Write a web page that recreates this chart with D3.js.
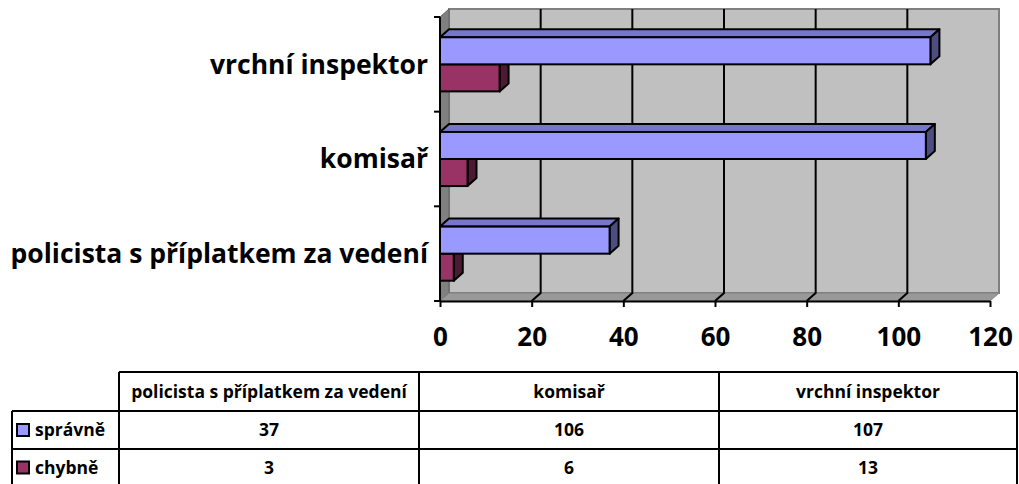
<!DOCTYPE html>
<html>
<head>
<meta charset="utf-8">
<script src="https://cdn.jsdelivr.net/npm/d3@7"></script>
<style>
  body { margin: 0; background: #fff; }
  svg { display: block; }
  text { font-family: "Open Sans", Lato, sans-serif; font-weight: bold; fill: #000; }
</style>
</head>
<body>
<div id="chart"></div>
<script>
// data
var categories = ['policista s příplatkem za vedení', 'komisař', 'vrchní inspektor'];
var seriesNames = ['správně', 'chybně'];
var spravne = [37, 106, 107];
var chybne = [3, 6, 13];
var xTicks = [0, 20, 40, 60, 80, 100, 120];
var seriesColors = ['#9999ff', '#993366'];
var topColors = ['#7676cc', '#7a2952'];
var sideColors = ['#4d4d80', '#4d1a33'];

var svgWidth = 1019;
var svgHeight = 484;
var depth = {x: 9, y: -8};

var svg = d3.select('#chart').append('svg').attr('width', svgWidth).attr('height', svgHeight);

var x = d3.scaleLinear().domain([0, 120]).range([440, 990]);
// first category sits at the bottom like in the spreadsheet
var y = d3.scaleBand().domain(categories.slice().reverse()).range([17, 301]).padding(0);
var bw = y.bandwidth();
var barH = bw / 3.5;
var ys = d3.scaleBand().domain(seriesNames).range([0, barH * 2]);

var x0 = x(0), x1 = x(120), yTop = y.range()[0], yBot = y.range()[1];

// walls
svg.append('polygon')
  .attr('points', [[x0 + depth.x, yTop + depth.y], [x1 + depth.x, yTop + depth.y], [x1 + depth.x, yBot + depth.y], [x0 + depth.x, yBot + depth.y]].join(' '))
  .attr('fill', '#c0c0c0').attr('stroke', '#808080').attr('stroke-width', 2);
svg.append('polygon')
  .attr('points', [[x0, yTop], [x0 + depth.x, yTop + depth.y], [x0 + depth.x, yBot + depth.y], [x0, yBot]].join(' '))
  .attr('fill', '#808080').attr('stroke', '#606060');
svg.append('polygon')
  .attr('points', [[x0, yBot], [x0 + depth.x, yBot + depth.y], [x1 + depth.x, yBot + depth.y], [x1, yBot]].join(' '))
  .attr('fill', '#999999').attr('stroke', '#808080');

// gridlines
var grid = xTicks.filter(function(t) { return t > 0 && t < 120; });
svg.selectAll('.grid').data(grid).enter().append('path')
  .attr('class', 'grid')
  .attr('d', function(t) {
    return 'M' + x(t) + ',' + yBot + 'L' + (x(t) + depth.x) + ',' + (yBot + depth.y) + 'L' + (x(t) + depth.x) + ',' + (yTop + depth.y);
  })
  .attr('fill', 'none').attr('stroke', '#000').attr('stroke-width', 2);

// bars, lower series first so the upper one covers its top face
var series = [spravne, chybne];
[1, 0].forEach(function(si) {
  var g = svg.append('g');
  categories.forEach(function(cat, ci) {
    var v = series[si][ci];
    var bx0 = x(0), bx1 = x(v);
    var by = y(cat) + (bw - barH * 2) / 2 + ys(seriesNames[si]);
    var bh = ys.bandwidth();
    g.append('polygon')
      .attr('points', [[bx0, by], [bx0 + depth.x, by + depth.y], [bx1 + depth.x, by + depth.y], [bx1, by]].join(' '))
      .attr('fill', topColors[si]).attr('stroke', '#000').attr('stroke-width', 2).attr('stroke-linejoin', 'round');
    g.append('polygon')
      .attr('points', [[bx1, by], [bx1 + depth.x, by + depth.y], [bx1 + depth.x, by + bh + depth.y], [bx1, by + bh]].join(' '))
      .attr('fill', sideColors[si]).attr('stroke', '#000').attr('stroke-width', 2).attr('stroke-linejoin', 'round');
    g.append('rect')
      .attr('x', bx0).attr('y', by).attr('width', bx1 - bx0).attr('height', bh)
      .attr('fill', seriesColors[si]).attr('stroke', '#000').attr('stroke-width', 2);
  });
});

// x axis
var xAxis = svg.append('g')
  .attr('transform', 'translate(0,' + yBot + ')')
  .call(d3.axisBottom(x).tickValues(xTicks).tickSize(6).tickPadding(21).tickSizeOuter(0));
xAxis.select('.domain').attr('stroke', '#000').attr('stroke-width', 2);
xAxis.selectAll('line').attr('stroke', '#000').attr('stroke-width', 2);
xAxis.selectAll('text').attr('font-size', 26).attr('font-family', '"Open Sans", sans-serif').attr('font-weight', 'bold').attr('fill', '#000');

// y axis: ticks on band edges, labels in the middle
var edges = y.domain().map(function(c) { return y(c); }).concat([yBot]);
svg.append('line').attr('x1', x0).attr('x2', x0).attr('y1', yTop).attr('y2', yBot)
  .attr('stroke', '#000').attr('stroke-width', 2);
svg.selectAll('.ytick').data(edges).enter().append('line')
  .attr('class', 'ytick')
  .attr('x1', x0 - 6).attr('x2', x0).attr('y1', function(d) { return d; }).attr('y2', function(d) { return d; })
  .attr('stroke', '#000').attr('stroke-width', 2);
svg.selectAll('.ylab').data(categories).enter().append('text')
  .attr('class', 'ylab')
  .attr('x', 428)
  .attr('y', function(d) { return y(d) + bw / 2; })
  .attr('dy', '0.35em')
  .attr('text-anchor', 'end')
  .attr('font-size', 26.5)
  .text(function(d) { return d; });

// data table
var cols = [119, 419, 719, 1017];
var rows = [372, 411, 449, 486];
var table = svg.append('g').attr('stroke', '#000').attr('stroke-width', 2);
table.append('line').attr('x1', cols[0]).attr('x2', cols[3]).attr('y1', rows[0]).attr('y2', rows[0]);
[rows[1], rows[2], rows[3]].forEach(function(r) {
  table.append('line').attr('x1', 12).attr('x2', cols[3]).attr('y1', r).attr('y2', r);
});
table.append('line').attr('x1', 12).attr('x2', 12).attr('y1', rows[1]).attr('y2', rows[3]);
cols.forEach(function(c) {
  table.append('line').attr('x1', c).attr('x2', c).attr('y1', rows[0]).attr('y2', rows[3]);
});

svg.selectAll('.thead').data(categories).enter().append('text')
  .attr('class', 'thead')
  .attr('x', function(d, i) { return (cols[i] + cols[i + 1]) / 2; })
  .attr('y', (rows[0] + rows[1]) / 2)
  .attr('dy', '0.35em')
  .attr('text-anchor', 'middle')
  .attr('font-size', 17.5)
  .text(function(d) { return d; });

series.forEach(function(vals, si) {
  var cy = (rows[si + 1] + rows[si + 2]) / 2;
  svg.append('rect')
    .attr('x', 17).attr('y', cy - 6).attr('width', 12).attr('height', 12)
    .attr('fill', seriesColors[si]).attr('stroke', '#000').attr('stroke-width', 2);
  svg.append('text')
    .attr('x', 35).attr('y', cy).attr('dy', '0.35em')
    .attr('font-size', 17.5)
    .text(seriesNames[si]);
  svg.selectAll('.tval' + si).data(vals).enter().append('text')
    .attr('x', function(d, i) { return (cols[i] + cols[i + 1]) / 2; })
    .attr('y', cy).attr('dy', '0.35em')
    .attr('text-anchor', 'middle')
    .attr('font-size', 17.5)
    .text(function(d) { return d; });
});
</script>
</body>
</html>
